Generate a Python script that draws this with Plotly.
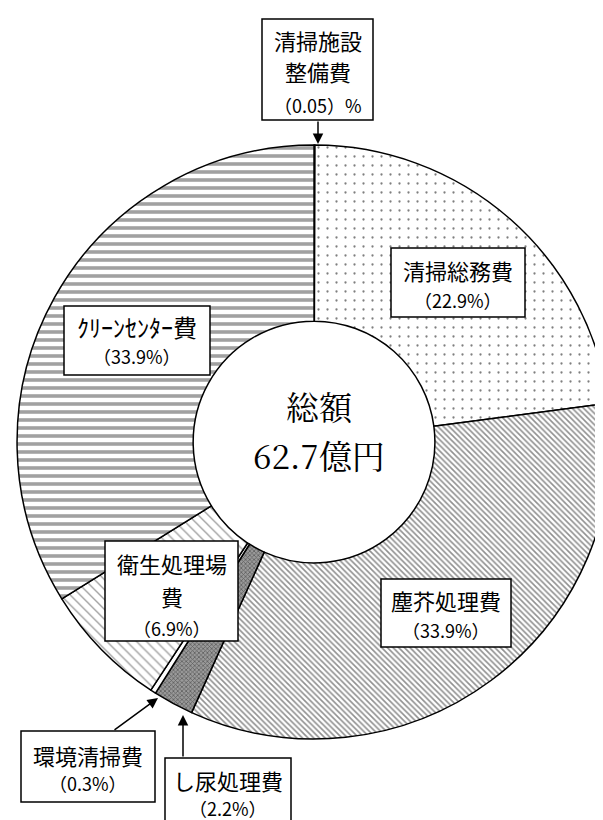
import plotly.graph_objects as go

# Constants
WIDTH, HEIGHT = 603, 820
OUT_PATH = "out.html"

# Data (clockwise from 12 o'clock)
CATEGORIES = ["清掃施設整備費", "清掃総務費", "塵芥処理費", "し尿処理費",
              "環境清掃費", "衛生処理場費", "クリーンセンター費"]
SHARES = [0.05, 22.9, 33.9, 2.2, 0.3, 6.9, 33.9]
LABEL_NAMES = [["清掃施設", "整備費"], ["清掃総務費"], ["塵芥処理費"], ["し尿処理費"],
               ["環境清掃費"], ["衛生処理場", "費"], ["ｸﾘｰﾝｾﾝﾀｰ費"]]
PERCENT_LABELS = ["（0.05）%", "（22.9%）", "（33.9%）", "（2.2%）",
                  "（0.3%）", "（6.9%）", "（33.9%）"]
TOTAL_TEXT = ["総額", "62.7億円"]

# Slice styles
BG_COLORS = ["black", "white", "white", "#9a9a9a", "white", "white", "white"]
PATTERN_SHAPES = ["", ".", "\\", "x", "", "\\", "-"]
PATTERN_FG = ["black", "black", "#222222", "#222222", "black", "#444444", "#444444"]
PATTERN_SIZE = [6, 9, 4, 3, 6, 7, 8]
PATTERN_SOLIDITY = [0.3, 0.05, 0.4, 0.45, 0.3, 0.2, 0.45]

# Label box layout in pixels: box (x0, y0, x1, y1), line centres y, name font size, arrow (tail, tip)
LABEL_LAYOUT = [
    {"box": (254, 11, 365, 112), "lines": [32, 63, 97], "size": 22, "arrow": ((310, 112), (310, 136))},
    {"box": (383, 240, 517, 309), "lines": [262, 292], "size": 22, "arrow": None},
    {"box": (373, 571, 503, 639), "lines": [592, 622], "size": 22, "arrow": None},
    {"box": (157, 750, 283, 840), "lines": [772, 800], "size": 22, "arrow": ((175, 750), (175, 707))},
    {"box": (13, 723, 147, 794), "lines": [747, 775], "size": 22, "arrow": ((105, 723), (150, 690))},
    {"box": (97, 533, 230, 633), "lines": [555, 588, 620], "size": 22, "arrow": None},
    {"box": (56, 298, 202, 367), "lines": [318, 348], "size": 24, "arrow": None},
]

LABEL_FONT = "Noto Sans CJK JP, Noto Sans, sans-serif"
TOTAL_FONT = "Noto Serif CJK JP, Liberation Serif, DejaVu Serif, Noto Sans CJK JP, serif"


def px(x):
    return x / WIDTH


def py(y):
    return 1 - y / HEIGHT


def text_annotation(x, y, txt, family, size):
    return dict(x=px(x), y=py(y), xref="paper", yref="paper",
                xanchor="center", yanchor="middle",
                text=txt, showarrow=False,
                font=dict(family=family, size=size, color="black"))


def build_figure():
    """
    Donut chart of the cleaning budget breakdown with boxed labels.
    """
    fig = go.Figure(go.Pie(
        labels=CATEGORIES,
        values=SHARES,
        sort=False,
        direction="clockwise",
        rotation=0,
        hole=0.407,
        textinfo="none",
        hoverinfo="label+value",
        showlegend=False,
        domain={"x": [0.015, 1.0], "y": [0.1085, 0.8329]},
        marker=dict(
            colors=BG_COLORS,
            line=dict(color="black", width=1.5),
            pattern=dict(
                shape=PATTERN_SHAPES,
                fgcolor=PATTERN_FG,
                size=PATTERN_SIZE,
                solidity=PATTERN_SOLIDITY,
                fillmode="overlay",
            ),
        ),
    ))

    shapes = []
    annotations = []
    for names, pct, spec in zip(LABEL_NAMES, PERCENT_LABELS, LABEL_LAYOUT):
        x0, y0, x1, y1 = spec["box"]
        shapes.append(dict(type="rect", xref="paper", yref="paper",
                           x0=px(x0), x1=px(x1), y0=py(y1), y1=py(y0),
                           line=dict(color="black", width=1.5), fillcolor="white"))
        xc = (x0 + x1) / 2
        texts = names + [pct]
        for i, (txt, ly) in enumerate(zip(texts, spec["lines"])):
            size = 18 if i == len(texts) - 1 else spec["size"]
            annotations.append(text_annotation(xc, ly, txt, LABEL_FONT, size))
        if spec["arrow"]:
            (tx, ty), (hx, hy) = spec["arrow"]
            annotations.append(dict(x=px(hx), y=py(hy), xref="paper", yref="paper",
                                    ax=tx - hx, ay=ty - hy, text="", showarrow=True,
                                    arrowhead=2, arrowsize=1.4, arrowwidth=1.5,
                                    arrowcolor="black", standoff=0, startstandoff=0))

    # centre text
    for txt, ly in zip(TOTAL_TEXT, [397, 446]):
        annotations.append(text_annotation(311, ly, txt, TOTAL_FONT, 33))

    fig.update_layout(
        width=WIDTH, height=HEIGHT,
        margin=dict(l=0, r=0, t=0, b=0),
        paper_bgcolor="white", plot_bgcolor="white",
        shapes=shapes, annotations=annotations,
    )
    return fig


if __name__ == "__main__":
    fig = build_figure()
    fig.write_html(OUT_PATH)
